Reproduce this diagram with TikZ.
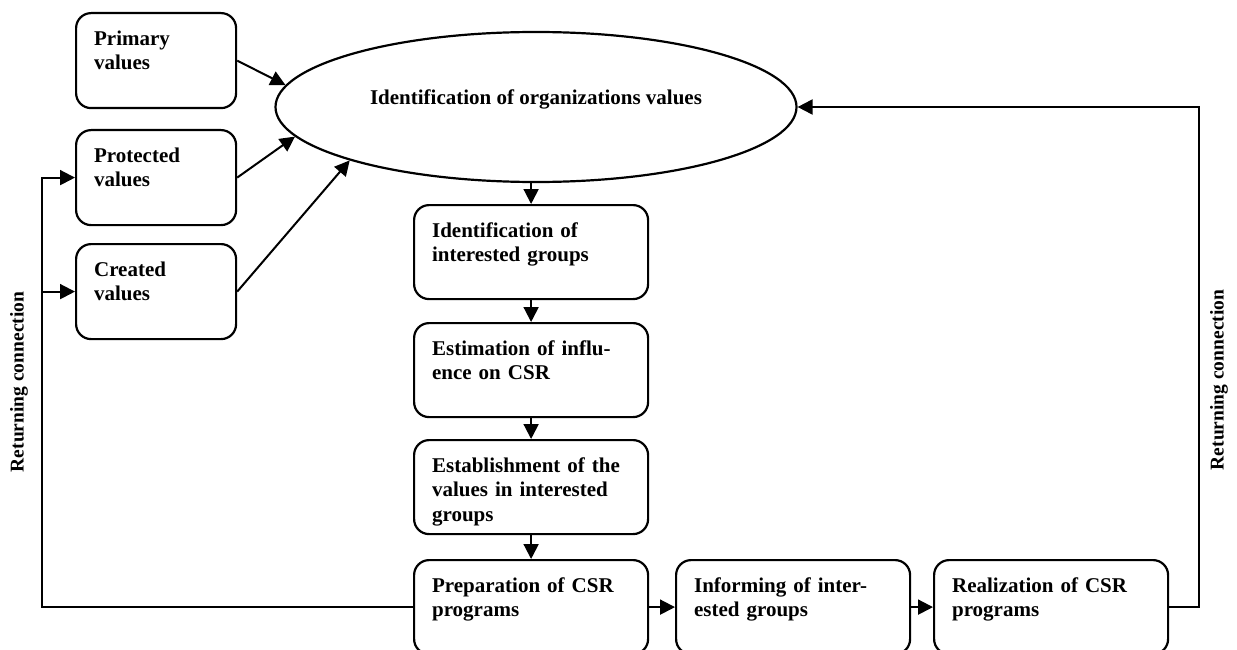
\documentclass[tikz,border=0pt]{standalone}
\usepackage{fontspec}
\setmainfont{Liberation Serif}
\usepackage{tikz}
\usetikzlibrary{arrows.meta,shapes.geometric}

\tikzset{
  stagebox/.style={draw, line width=2.2pt, rounded corners=15pt, anchor=north west,
    inner xsep=18pt, inner ysep=17pt, text width=198pt, align=left,
    text height=15pt, text depth=45pt, font=\bfseries\fontsize{21}{24.5}\selectfont},
  valuebox/.style={stagebox, text width=124pt, text depth=46pt},
  link/.style={line width=2pt, -{Triangle[length=15pt,width=15pt]}},
  returnlabel/.style={rotate=90, font=\bfseries\fontsize{19.5}{21}\selectfont}
}

\begin{document}
\begin{tikzpicture}[x=1pt,y=-1pt]
    \useasboundingbox (0,0) rectangle (1237,650);

    \node[draw, ellipse, line width=2.2pt, minimum width=521pt, minimum height=150pt, inner sep=0pt,
      text height=15pt, text depth=19pt,
      font=\bfseries\fontsize{21}{24.5}\selectfont] (orgvalues) at (536,107) {Identification of organizations values};

    \node[valuebox] (primary) at (75,12) {Primary\\values};
    \node[valuebox] (protected) at (75,129) {Protected\\values};
    \node[valuebox] (created) at (75,243) {Created\\values};

    \node[stagebox] (idgroups) at (413,204) {Identification of\\interested groups};
    \node[stagebox] (influence) at (413,322) {Estimation of influ-\\ence on CSR};
    \node[stagebox] (establish) at (413,439) {Establishment of the\\values in interested\\groups};
    \node[stagebox] (prep) at (413,559) {Preparation of CSR\\programs};
    \node[stagebox] (inform) at (675,559) {Informing of inter-\\ested groups};
    \node[stagebox] (realize) at (933,559) {Realization of CSR\\programs};

    \coordinate (leftrail) at (42,0);
    \coordinate (rightrail) at (1199,0);

    \draw[link] (primary.east) -- (orgvalues.175.7);
    \draw[link] (protected.east) -- (orgvalues.187);
    \draw[link] (created.east) -- (orgvalues.196.6);

    \draw[link] (idgroups.north |- orgvalues.south) -- (idgroups.north);
    \draw[link] (idgroups.south) -- (influence.north);
    \draw[link] (influence.south) -- (establish.north);
    \draw[link] (establish.south) -- (prep.north);
    \draw[link] (prep.east) -- (inform.west);
    \draw[link] (inform.east) -- (realize.west);

    \draw[link] (prep.west) -| (leftrail |- protected.west) -- (protected.west);
    \draw[link] (leftrail |- created.west) -- (created.west);
    \draw[link] (realize.east) -| (rightrail |- orgvalues.east) -- (orgvalues.east);

    \node[returnlabel] (leftlabel) at (19,382) {Returning connection};
    \node[returnlabel] (rightlabel) at (1219,380) {Returning connection};
\end{tikzpicture}
\end{document}
